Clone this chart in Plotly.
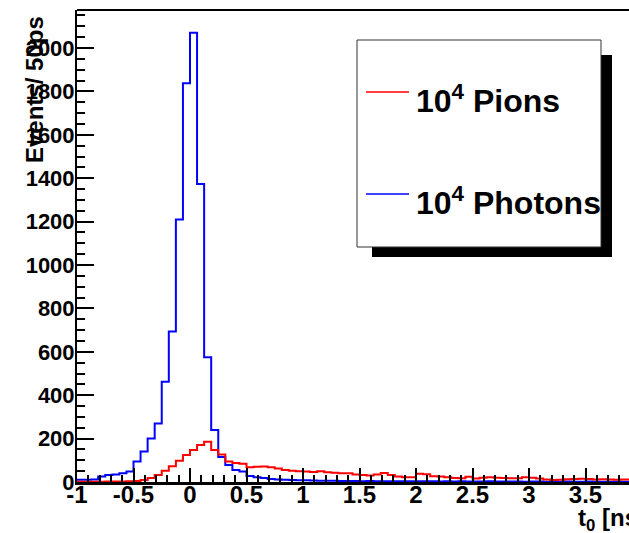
import numpy as np
import plotly.graph_objects as go

# ---------------- data ----------------
bin_start = -1.0
bin_width = 0.0625  # ns

photons = [10, 10, 12, 25, 32, 35, 40, 48, 94, 140,
           201, 270, 462, 693, 1210, 1837, 2070, 1373, 575, 240,
           115, 78, 55, 48, 28, 22, 18, 14, 11, 10,
           9, 8, 8, 7, 6, 6, 6, 5, 5, 5,
           4, 5, 4, 4, 4, 3, 4, 3, 3, 3,
           3, 2, 3, 2, 3, 2, 2, 2, 3, 2,
           2, 2, 2, 1, 2, 2, 1, 2, 1, 2,
           1, 1, 2, 1, 1, 1, 1, 1, 1, 1]

pions = [1, 1, 1, 1, 2, 2, 2, 3, 5, 9,
         18, 32, 52, 73, 98, 125, 148, 170, 185, 147,
         127, 95, 88, 84, 68, 70, 71, 68, 62, 55,
         52, 50, 48, 46, 50, 45, 43, 40, 40, 34,
         32, 30, 35, 42, 32, 25, 22, 22, 38, 36,
         26, 25, 22, 18, 17, 24, 16, 20, 22, 20,
         18, 17, 17, 22, 20, 16, 12, 9, 10, 13,
         14, 15, 14, 11, 13, 12, 10, 12, 12, 10]

x_tickvals = [-1, -0.5, 0, 0.5, 1, 1.5, 2, 2.5, 3, 3.5]
x_ticktext = ["-1", "-0.5", "0", "0.5", "1", "1.5", "2", "2.5", "3", "3.5"]
y_tickvals = [0, 200, 400, 600, 800, 1000, 1200, 1400, 1600, 1800, 2000]
y_ticktext = [str(v) for v in y_tickvals]

legend_labels = ["10<sup>4</sup> Pions", "10<sup>4</sup> Photons"]

# ---------------- geometry ----------------
W, H = 629, 533
L, R, T, B = 77, 0, 10, 51
PW, PH = W - L - R, H - T - B

def px(x):
    return (x - L) / PW

def py(y):
    return (H - B - y) / PH

n = len(photons)
edges = bin_start + bin_width * np.arange(n + 1)

def steps(vals):
    return list(vals) + [vals[-1]]

FONT = "Liberation Sans"

fig = go.Figure()
fig.add_trace(go.Scatter(x=edges, y=steps(photons), mode="lines",
                         line=dict(color="#0000ff", width=2, shape="hv"),
                         showlegend=False, hoverinfo="skip"))
fig.add_trace(go.Scatter(x=edges, y=steps(pions), mode="lines",
                         line=dict(color="#ff0000", width=2, shape="hv"),
                         showlegend=False, hoverinfo="skip"))

fig.update_layout(
    width=W, height=H,
    margin=dict(l=L, r=R, t=T, b=B, pad=0),
    paper_bgcolor="white", plot_bgcolor="white",
    showlegend=False,
    xaxis=dict(range=[bin_start, bin_start + PW / 113.0],
               tickmode="array", tickvals=x_tickvals, ticktext=x_ticktext,
               ticks="inside", ticklen=14, tickwidth=2, tickcolor="black",
               ticklabelstandoff=-11,
               minor=dict(tick0=0, dtick=0.1, ticks="inside", ticklen=7,
                          tickwidth=1.5, tickcolor="black"),
               showline=True, linecolor="black", linewidth=2.5,
               showgrid=False, zeroline=False,
               tickfont=dict(family=FONT, size=24, color="black", weight="bold")),
    yaxis=dict(range=[0, PH / 0.217],
               tickmode="array", tickvals=y_tickvals, ticktext=y_ticktext,
               ticks="inside", ticklen=17, tickwidth=2, tickcolor="black",
               ticklabelstandoff=-4,
               minor=dict(tick0=0, dtick=50, ticks="inside", ticklen=8,
                          tickwidth=1.5, tickcolor="black"),
               showline=True, linecolor="black", linewidth=2,
               showgrid=False, zeroline=False,
               tickfont=dict(family=FONT, size=22, color="black", weight="bold")),
)

shapes = [
    # top frame line
    dict(type="line", xref="paper", yref="paper", x0=0, x1=1.1, y0=1, y1=1,
         line=dict(color="black", width=2)),
    # legend shadow
    dict(type="rect", xref="paper", yref="paper", layer="above",
         x0=px(372), x1=px(612), y0=py(257), y1=py(55),
         fillcolor="black", line=dict(width=0)),
    # legend box
    dict(type="rect", xref="paper", yref="paper", layer="above",
         x0=px(357), x1=px(601), y0=py(247), y1=py(40),
         fillcolor="white", line=dict(color="#333333", width=1)),
    # legend line samples
    dict(type="line", xref="paper", yref="paper", layer="above",
         x0=px(366), x1=px(409), y0=py(92), y1=py(92),
         line=dict(color="#ff0000", width=1.5)),
    dict(type="line", xref="paper", yref="paper", layer="above",
         x0=px(366), x1=px(409), y0=py(194), y1=py(194),
         line=dict(color="#0000ff", width=1.5)),
]
fig.update_layout(shapes=shapes)

annotations = [
    dict(text="Events/ 50ps", textangle=-90, xref="paper", yref="paper",
         x=px(34), y=py(90), xanchor="center", yanchor="middle", showarrow=False,
         font=dict(family=FONT, size=24, color="black", weight="bold")),
    dict(text="t<sub>0</sub> [ns]", xref="paper", yref="paper",
         x=px(648), y=py(502), xanchor="right", yanchor="top", showarrow=False,
         font=dict(family=FONT, size=24, color="black", weight="bold")),
    dict(text=legend_labels[0], xref="paper", yref="paper",
         x=px(414), y=py(99), xanchor="left", yanchor="middle", showarrow=False,
         font=dict(family=FONT, size=32, color="black", weight="bold")),
    dict(text=legend_labels[1], xref="paper", yref="paper",
         x=px(414), y=py(201), xanchor="left", yanchor="middle", showarrow=False,
         font=dict(family=FONT, size=32, color="black", weight="bold")),
]
fig.update_layout(annotations=annotations)

fig.write_html("out.html")
